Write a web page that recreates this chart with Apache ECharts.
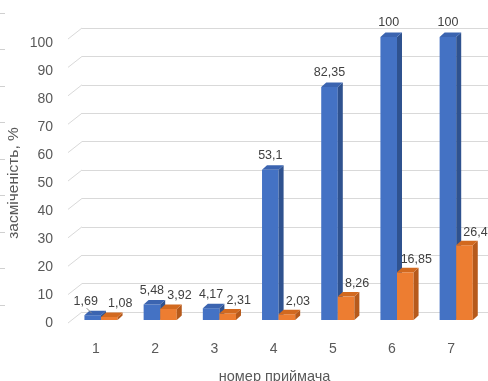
<!DOCTYPE html>
<html>
<head>
<meta charset="utf-8">
<script src="https://cdn.jsdelivr.net/npm/echarts@6/dist/echarts.min.js"></script>
<style>
  html, body { margin: 0; padding: 0; background: #ffffff; }
  #chart { width: 488px; height: 381px; }
</style>
</head>
<body>
<div id="chart"></div>
<script>
// Receiver numbers and pollution share per receiver (two series)
const receivers = ['1', '2', '3', '4', '5', '6', '7'];
const seriesA = [1.69, 5.48, 4.17, 53.1, 82.35, 100, 100];
const seriesB = [1.08, 3.92, 2.31, 2.03, 8.26, 16.85, 26.4];
const yTicks = [0, 10, 20, 30, 40, 50, 60, 70, 80, 90, 100];

const FONT = '"Liberation Sans", Arial, sans-serif';
const DEPTH_X = 5, DEPTH_Y = 4.5;

const palettes = [
  { front: '#4472C4', side: '#2F528F', top: '#3B64B0' },
  { front: '#ED7D31', side: '#B65A1C', top: '#D2691F' }
];

const fmt = v => String(v).replace('.', ',');

// Draws one pseudo-3D column: front face, right side and top, plus its value label
function makeColumn(seriesIdx) {
  return function (params, api) {
    const cat = api.value(0);
    const v = api.value(1);
    const base = api.coord([cat, 0]);
    const top = api.coord([cat, v]);
    const bw = api.size([1, 0])[0] * 0.28;
    const x0 = seriesIdx === 0 ? base[0] - bw : base[0];
    const x1 = x0 + bw;
    const c = palettes[seriesIdx];
    const children = [
      { type: 'rect', shape: { x: x0, y: top[1], width: bw, height: base[1] - top[1] },
        style: { fill: c.front } },
      { type: 'polygon', shape: { points: [[x1, top[1]], [x1 + DEPTH_X, top[1] - DEPTH_Y],
          [x1 + DEPTH_X, base[1] - DEPTH_Y], [x1, base[1]]] }, style: { fill: c.side } },
      { type: 'polygon', shape: { points: [[x0, top[1]], [x0 + DEPTH_X, top[1] - DEPTH_Y],
          [x1 + DEPTH_X, top[1] - DEPTH_Y], [x1, top[1]]] }, style: { fill: c.top } }
    ];
    let lx = (x0 + x1) / 2 + (seriesIdx === 1 ? 11 : 0);
    const ly = top[1] - (seriesIdx === 1 ? 13 : 14);
    if (seriesIdx === 0 && v < 2) {
      // very short column: label moved aside with a leader line
      lx -= 7;
      children.push({ type: 'line', shape: { x1: lx + 1, y1: ly + 7, x2: lx + 6, y2: top[1] - 2 },
        style: { stroke: '#8c8c8c', lineWidth: 1 } });
    }
    children.push({ type: 'text', style: { text: fmt(v), x: lx, y: ly, align: 'center',
      verticalAlign: 'middle', fill: '#404040', font: '12.5px ' + FONT } });
    return { type: 'group', children: children };
  };
}

const chart = echarts.init(document.getElementById('chart'), null, { renderer: 'canvas' });

chart.setOption({
  backgroundColor: '#ffffff',
  animation: false,
  grid: [
    // columns plane
    { left: 71.4, right: 2.2, top: 37, bottom: 61, outerBoundsMode: 'none', containLabel: false },
    // back wall with gridlines
    { left: 82, right: 0, top: 28, bottom: 69, outerBoundsMode: 'none', containLabel: false },
    // value labels on the front edge
    { left: 60, width: 10, top: 43, bottom: 58, outerBoundsMode: 'none', containLabel: false },
    // short marks along the left border
    { left: 5, width: 1, top: 13, bottom: 76, outerBoundsMode: 'none', containLabel: false }
  ],
  xAxis: [
    { gridIndex: 0, type: 'category', data: receivers,
      axisLine: { show: false }, axisTick: { show: false },
      axisLabel: { margin: 22, color: '#595959', fontSize: 14, fontFamily: FONT,
        formatter: '{a|{value}}', rich: { a: { padding: [0, 10, 0, 0], fontSize: 14, color: '#595959', fontFamily: FONT } } },
      name: 'номер приймача', nameLocation: 'middle', nameGap: 49,
      nameTextStyle: { color: '#595959', fontSize: 14.5, fontFamily: FONT, padding: [0, 8, 0, 0] } },
    { gridIndex: 1, type: 'value', min: 0, max: 1, show: false },
    { gridIndex: 2, type: 'value', min: 0, max: 1, show: false },
    { gridIndex: 3, type: 'value', min: 0, max: 1, show: false }
  ],
  yAxis: [
    { gridIndex: 0, type: 'value', min: 0, max: 100, show: false },
    { gridIndex: 1, type: 'value', min: 0, max: 100, interval: 10,
      axisLine: { show: false }, axisTick: { show: false }, axisLabel: { show: false },
      splitLine: { show: true, lineStyle: { color: '#d9d9d9', width: 1 } } },
    { gridIndex: 2, type: 'value', min: 0, max: 100, interval: 10,
      axisLine: { show: false }, axisTick: { show: false }, splitLine: { show: false },
      axisLabel: { margin: 7, color: '#595959', fontSize: 14, fontFamily: FONT },
      name: 'засміченість, %', nameLocation: 'middle', nameRotate: 90, nameGap: 38,
      nameTextStyle: { color: '#595959', fontSize: 15.5, fontFamily: FONT } },
    { gridIndex: 3, type: 'value', min: 0, max: 8, interval: 1,
      axisLine: { show: false }, axisLabel: { show: false }, splitLine: { show: false },
      axisTick: { show: true, length: 5, lineStyle: { color: '#d0d0d0' } } }
  ],
  series: [
    // side-wall diagonals joining the front edge to the back-wall gridlines
    { type: 'custom', xAxisIndex: 1, yAxisIndex: 1, silent: true,
      data: yTicks.map(t => [0, t]),
      renderItem: function (params, api) {
        const p = api.coord([0, api.value(1)]);
        return { type: 'line', shape: { x1: p[0] - 14, y1: p[1] + 11, x2: p[0], y2: p[1] },
          style: { stroke: '#d9d9d9', lineWidth: 1 } };
      } },
    { type: 'custom', xAxisIndex: 0, yAxisIndex: 0, silent: true,
      data: seriesA.map((v, i) => [i, v]), renderItem: makeColumn(0) },
    { type: 'custom', xAxisIndex: 0, yAxisIndex: 0, silent: true,
      data: seriesB.map((v, i) => [i, v]), renderItem: makeColumn(1) }
  ]
});
</script>
</body>
</html>
